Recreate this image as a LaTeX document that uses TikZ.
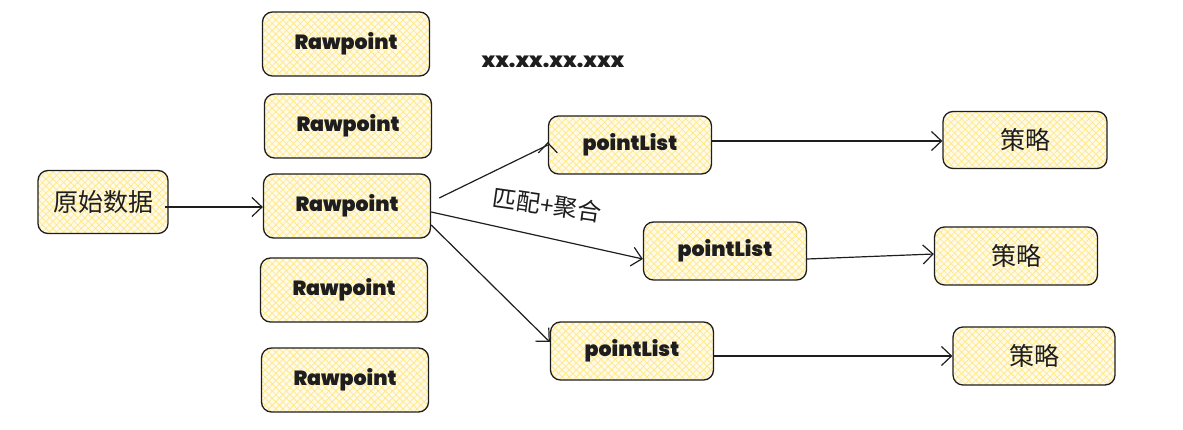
\documentclass[tikz,border=0pt]{standalone}
\usepackage{fontspec}
\setmainfont{Poppins}[BoldFont={Poppins Black}]
\newfontfamily\cjk{Noto Sans CJK SC}
\usetikzlibrary{arrows.meta,patterns.meta}

\definecolor{hatchbg}{HTML}{FFFBE8}
\definecolor{hatch}{HTML}{FFE88C}
\definecolor{ink}{HTML}{1E1E1E}

\begin{document}
\begin{tikzpicture}[x=1pt,y=-1pt,
  box/.style={draw=ink,line width=1.3pt,rounded corners=10pt,inner sep=0pt,
    preaction={fill=hatchbg},
    preaction={pattern={Lines[angle=45,distance=5pt,line width=0.8pt]},pattern color=hatch},
    pattern={Lines[angle=-45,distance=5pt,line width=0.8pt]},pattern color=hatch,
    text=ink},
  rawbox/.style={box,minimum width=167pt,minimum height=64pt,font=\fontsize{20.5}{22}\selectfont\bfseries},
  listbox/.style={box,minimum width=163pt,minimum height=58pt,font=\fontsize{20.5}{22}\selectfont\bfseries},
  cnbox/.style={box,font=\fontsize{25}{27}\selectfont\cjk},
  link/.style={draw=ink,line width=1.2pt,-{Straight Barb[length=10pt,width=19pt,line width=1.2pt]}}]
\useasboundingbox (0,0) rectangle (1183,430);

% source
\node[cnbox,minimum width=130pt,minimum height=63pt] (src) at (103,202) {原始数据};

% raw points
\node[rawbox] (raw1) at (346,44) {Rawpoint};
\node[rawbox] (raw2) at (348,126) {Rawpoint};
\node[rawbox] (raw3) at (347,206) {Rawpoint};
\node[rawbox] (raw4) at (344,290) {Rawpoint};
\node[rawbox] (raw5) at (345,380) {Rawpoint};

\node[font=\fontsize{20.5}{22}\selectfont\bfseries,text=ink] (addr) at (553,62) {xx.xx.xx.xxx};

% point lists
\node[listbox] (list1) at (630,145) {pointList};
\node[listbox] (list2) at (725,251) {pointList};
\node[listbox] (list3) at (632,351) {pointList};

% strategies
\node[cnbox,minimum width=164pt,minimum height=57pt] (rule1) at (1025,140) {策略};
\node[cnbox,minimum width=163pt,minimum height=58pt] (rule2) at (1016,256) {策略};
\node[cnbox,minimum width=162pt,minimum height=58pt] (rule3) at (1034,356) {策略};

% connectors
\draw[link] (src.east) ++(-3,5) coordinate (s0) -- (raw3.west |- s0);
\draw[link] (raw3.east) ++(8,-8) coordinate (a1) -- (list1.west) ++(0,-3);
\draw[link] (raw3.east) ++(0,6) coordinate (a2) -- ([yshift=-8pt]list2.west);
\draw[link] (raw3.east) ++(0,19) coordinate (a3) -- ([yshift=9pt]list3.west);
\draw[link] (list1.east) ++(0,-4) coordinate (b1) -- (rule1.west |- b1);
\draw[link] (list2.east) ++(0,8) coordinate (b2) -- ([yshift=2pt]rule2.west);
\draw[link] (list3.east) ++(0,5) coordinate (b3) -- (rule3.west |- b3);

\node[font=\fontsize{24}{26}\selectfont\cjk,text=ink,rotate=-8] (match) at (547,205) {匹配+聚合};
\end{tikzpicture}
\end{document}
